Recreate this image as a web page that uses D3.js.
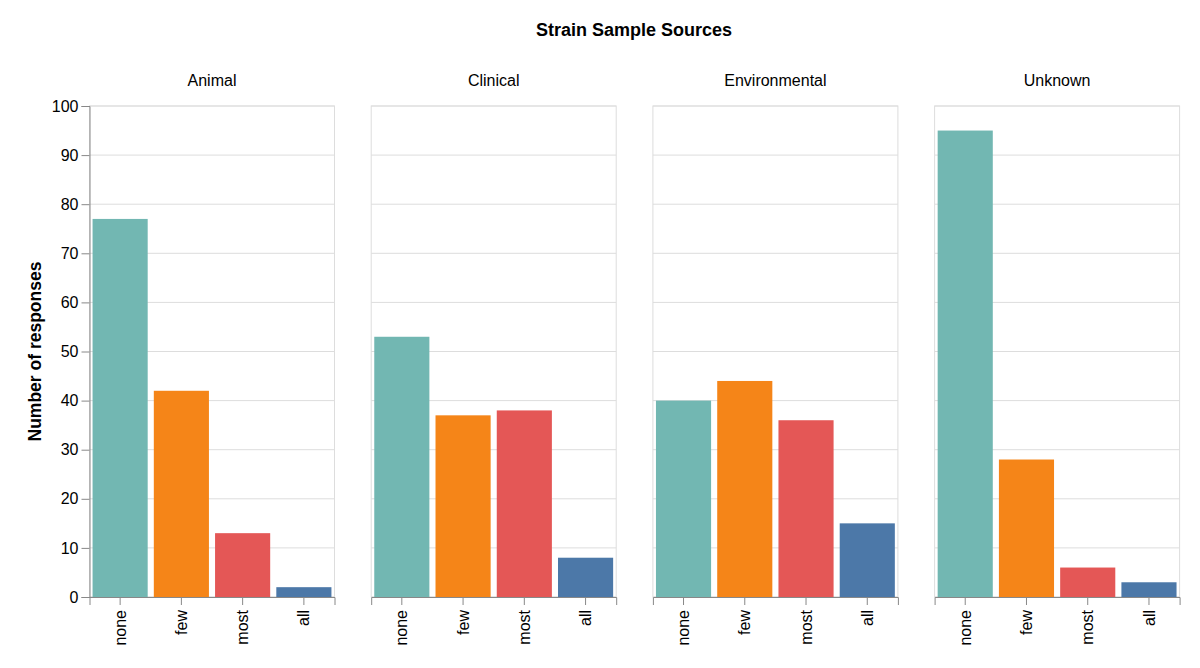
<!DOCTYPE html>
<html lang="en">
<head>
<meta charset="UTF-8">
<title>Strain Sample Sources</title>
<script src="https://cdnjs.cloudflare.com/ajax/libs/d3/7.8.5/d3.min.js"></script>
<style>
  body { margin: 0; background: #fff; }
  text { font-family: "Liberation Sans", Arial, Helvetica, sans-serif; fill: #000; }
</style>
</head>
<body>
<div id="chart"></div>
<script>
// data
var sources = ['Animal', 'Clinical', 'Environmental', 'Unknown'];
var categories = ['none', 'few', 'most', 'all'];
var colors = ['#72b7b2', '#f58518', '#e45756', '#4c78a8'];
var animal = [77, 42, 13, 2];
var clinical = [53, 37, 38, 8];
var environmental = [40, 44, 36, 15];
var unknown = [95, 28, 6, 3];
var yTicks = [0, 10, 20, 30, 40, 50, 60, 70, 80, 90, 100];

var series = [animal, clinical, environmental, unknown];

var width = 1200, height = 668;
var panelW = 245, panelH = 491;
var marginLeft = 89.5, marginTop = 106, step = 281.7;

var svg = d3.select('#chart').append('svg')
  .attr('width', width)
  .attr('height', height);

var x = d3.scaleBand()
  .domain(categories)
  .range([0, panelW])
  .paddingInner(0.1)
  .paddingOuter(0.05);

var y = d3.scaleLinear()
  .domain([0, 100])
  .range([panelH, 0]);

var color = d3.scaleOrdinal().domain(categories).range(colors);

// title
svg.append('text')
  .attr('x', 634)
  .attr('y', 36)
  .attr('text-anchor', 'middle')
  .style('font-size', '18px')
  .style('font-weight', 'bold')
  .text('Strain Sample Sources');

// y axis title
svg.append('text')
  .attr('transform', 'translate(41,' + (marginTop + panelH / 2) + ') rotate(-90)')
  .attr('text-anchor', 'middle')
  .style('font-size', '17.5px')
  .style('font-weight', 'bold')
  .text('Number of responses');

sources.forEach(function(src, i) {
  var g = svg.append('g')
    .attr('transform', 'translate(' + (marginLeft + i * step) + ',' + marginTop + ')');

  var rows = categories.map(function(c, j) { return { cat: c, value: series[i][j] }; });

  // header
  g.append('text')
    .attr('x', panelW / 2)
    .attr('y', -20)
    .attr('text-anchor', 'middle')
    .style('font-size', '16px')
    .text(src);

  // grid
  g.selectAll('line.grid')
    .data(yTicks)
    .enter().append('line')
    .attr('class', 'grid')
    .attr('x1', 0).attr('x2', panelW)
    .attr('y1', function(d) { return y(d); })
    .attr('y2', function(d) { return y(d); })
    .attr('stroke', '#ddd');

  // panel border
  g.append('rect')
    .attr('x', 0).attr('y', 0)
    .attr('width', panelW).attr('height', panelH)
    .attr('fill', 'none')
    .attr('stroke', '#ddd');

  // bars
  g.selectAll('rect.bar')
    .data(rows)
    .enter().append('rect')
    .attr('class', 'bar')
    .attr('x', function(d) { return x(d.cat); })
    .attr('width', x.bandwidth())
    .attr('y', function(d) { return y(d.value); })
    .attr('height', function(d) { return panelH - y(d.value); })
    .attr('fill', function(d) { return color(d.cat); });

  // x axis
  var xa = g.append('g')
    .attr('transform', 'translate(0,' + panelH + ')')
    .call(d3.axisBottom(x).tickSizeOuter(0).tickSize(8));
  xa.select('.domain').attr('stroke', '#888');
  xa.selectAll('.tick line').attr('stroke', '#888');
  xa.selectAll('.tick text')
    .style('font-size', '16px')
    .attr('transform', 'rotate(-90)')
    .attr('text-anchor', 'end')
    .attr('x', -13)
    .attr('y', 0)
    .attr('dy', '0.35em');

  // y axis only on first panel
  if (i === 0) {
    var ya = g.append('g')
      .call(d3.axisLeft(y).tickValues(yTicks).tickSizeOuter(0).tickSize(8).tickPadding(3));
    ya.select('.domain').attr('stroke', '#888');
    ya.selectAll('.tick line').attr('stroke', '#888');
    ya.selectAll('.tick text').style('font-size', '16px');
  }
});
</script>
</body>
</html>
